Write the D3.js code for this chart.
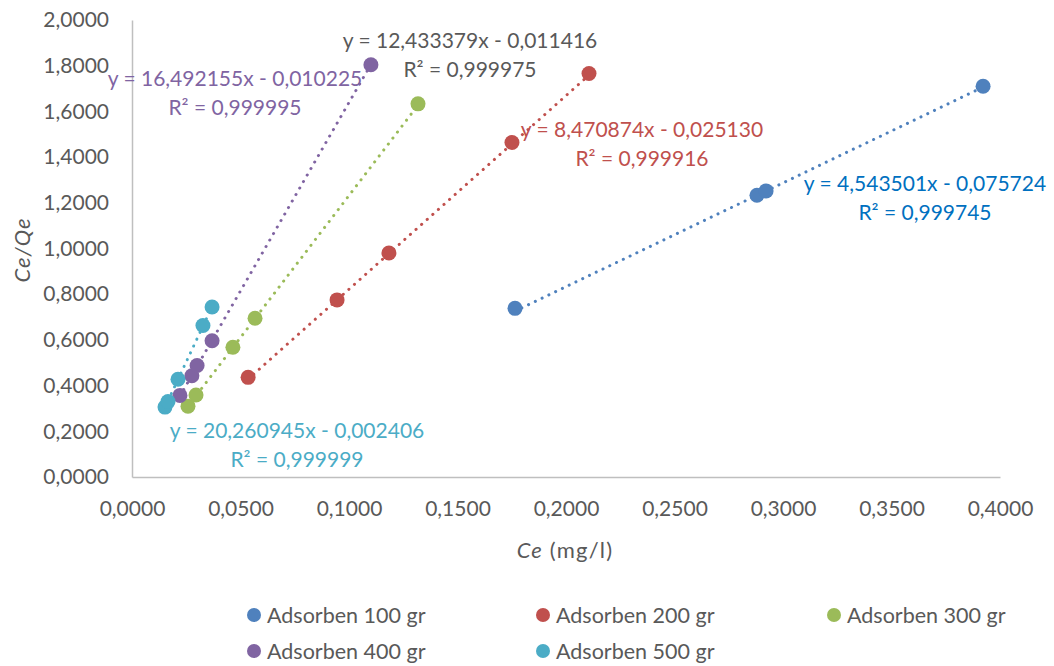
<!DOCTYPE html>
<html><head><meta charset="utf-8">
<script src="https://cdn.jsdelivr.net/npm/d3@7"></script>
<style>body{margin:0;background:#fff}svg{display:block}text{font-family:Lato,"Open Sans",sans-serif}</style>
</head><body><svg id="c" width="1054" height="666"></svg>
<script>
// ---- data ----
const seriesNames = ["Adsorben 100 gr","Adsorben 200 gr","Adsorben 300 gr","Adsorben 400 gr","Adsorben 500 gr"];
const ce100 = [0.1765,0.2880,0.2922,0.3922];
const cq100 = [0.738,1.233,1.252,1.710];
const ce200 = [0.0535,0.0945,0.1184,0.1751,0.2106];
const cq200 = [0.436,0.775,0.980,1.464,1.766];
const ce300 = [0.0258,0.0295,0.0465,0.0567,0.1318];
const cq300 = [0.310,0.359,0.568,0.695,1.633];
const ce400 = [0.0221,0.0276,0.0300,0.0369,0.1101];
const cq400 = [0.357,0.443,0.488,0.596,1.804];
const ce500 = [0.0152,0.0166,0.0212,0.0327,0.0369];
const cq500 = [0.306,0.330,0.428,0.663,0.744];
const slopes = [4.543501,8.470874,12.433379,16.492155,20.260945];
const intercepts = [-0.075724,-0.025130,-0.011416,-0.010225,-0.002406];
const r2s = ["0,999745","0,999916","0,999975","0,999995","0,999999"];
const xTicks = [0,0.05,0.1,0.15,0.2,0.25,0.3,0.35,0.4];
const yTicks = [0,0.2,0.4,0.6,0.8,1.0,1.2,1.4,1.6,1.8,2.0];

const xs = [ce100,ce200,ce300,ce400,ce500];
const ys = [cq100,cq200,cq300,cq400,cq500];
const colors = ["#4F81BD","#C0504D","#9BBB59","#8064A2","#4BACC6"];
const labelColors = ["#0070C0","#C0504D","#595959","#8064A2","#4BACC6"];
// label anchor positions (center x, first line y) in pixels
const labelPos = [[925,184],[642,130],[470,41],[235,79],[297,431]];

const svg = d3.select("#c");
const x = d3.scaleLinear().domain([0,0.4]).range([132,1000]);
const y = d3.scaleLinear().domain([0,2]).range([477,20]);
const fmt = v => d3.format(".4f")(v).replace(".",",");

// axes
const gx = svg.append("g").attr("transform","translate(0,477)")
  .call(d3.axisBottom(x).tickValues(xTicks).tickSize(0).tickFormat(fmt));
const gy = svg.append("g").attr("transform","translate(132,0)")
  .call(d3.axisLeft(y).tickValues(yTicks).tickSize(0).tickPadding(23).tickFormat(fmt));
[gx,gy].forEach(g=>{
  g.select(".domain").attr("stroke","#BFBFBF").attr("stroke-width",1.5);
  g.selectAll("text").attr("fill","#595959").style("font-size","21px").style("font-family","Lato,sans-serif");
});
gx.selectAll("text").attr("y",32).attr("dy","0.35em");

// axis titles
const yt = svg.append("text").attr("transform","translate(22,250) rotate(-90)")
  .attr("text-anchor","middle").attr("dy","0.35em").attr("fill","#595959")
  .style("font-size","22px").style("letter-spacing","1px");
yt.append("tspan").style("font-style","italic").text("Ce/Qe");
const xt = svg.append("text").attr("x",565).attr("y",550).attr("dy","0.35em")
  .attr("text-anchor","middle").attr("fill","#595959")
  .style("font-size","22px").style("letter-spacing","1.2px");
xt.append("tspan").style("font-style","italic").text("Ce");
xt.append("tspan").text(" (mg/l)");

// trendlines
xs.forEach((arr,i)=>{
  const x0 = d3.min(arr), x1 = d3.max(arr);
  const pad = (x1-x0)*0.012;
  const pts = [x0, x1+pad];
  svg.append("line")
    .attr("x1",x(pts[0])).attr("y1",y(slopes[i]*pts[0]+intercepts[i]))
    .attr("x2",x(pts[1])).attr("y2",y(slopes[i]*pts[1]+intercepts[i]))
    .attr("stroke",colors[i]).attr("stroke-width",3).attr("stroke-linecap","round")
    .attr("stroke-dasharray","0.1 7.4");
});

// points
xs.forEach((arr,i)=>{
  svg.append("g").selectAll("circle").data(arr.map((v,j)=>[v,ys[i][j]])).join("circle")
    .attr("cx",d=>x(d[0])).attr("cy",d=>y(d[1])).attr("r",7.5).attr("fill",colors[i]);
});

// equation labels
const f6 = v => d3.format(".6f")(Math.abs(v)).replace(".",",");
slopes.forEach((s,i)=>{
  const t = svg.append("text").attr("text-anchor","middle").attr("fill",labelColors[i])
    .style("font-size","21px");
  t.append("tspan").attr("x",labelPos[i][0]).attr("y",labelPos[i][1]).attr("dy","0.35em")
    .text(`y = ${f6(s)}x ${intercepts[i]<0?"-":"+"} ${f6(intercepts[i])}`);
  t.append("tspan").attr("x",labelPos[i][0]).attr("y",labelPos[i][1]+28.5).attr("dy","0.35em")
    .text(`R² = ${r2s[i]}`);
});

// legend
const legPos = [[254,615],[543,615],[834,615],[254,651],[543,651]];
seriesNames.forEach((n,i)=>{
  const g = svg.append("g").attr("transform",`translate(${legPos[i][0]},${legPos[i][1]})`);
  g.append("circle").attr("r",7).attr("fill",colors[i]);
  g.append("text").attr("x",13).attr("dy","0.35em").attr("fill","#595959")
    .style("font-size","21.5px").text(n);
});
</script></body></html>
